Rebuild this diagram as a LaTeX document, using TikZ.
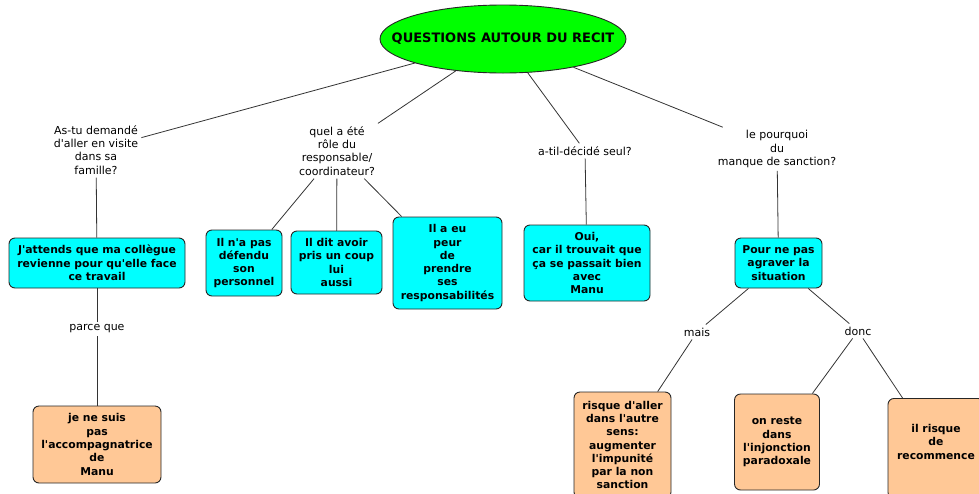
\documentclass[tikz,border=0pt]{standalone}
\usepackage{fontspec}
\setmainfont{DejaVu Sans}[Ligatures=TeXOff]
\usetikzlibrary{shapes.geometric}
\definecolor{titlegreen}{RGB}{0,255,0}
\definecolor{answercyan}{RGB}{0,255,255}
\definecolor{peach}{RGB}{255,200,150}
\begin{document}
\begin{tikzpicture}[x=1pt,y=-1pt,
  question/.style={font=\fontsize{11}{13.3}\selectfont, align=center, inner sep=3pt},
  answer/.style={draw=black!85, line width=0.9pt, rounded corners=6pt,
    font=\bfseries\fontsize{10.8}{13.3}\selectfont, align=center, inner sep=1pt},
  cyanbox/.style={answer, fill=answercyan},
  orangebox/.style={answer, fill=peach},
  link/.style={draw=black!80, line width=0.8pt}]
\useasboundingbox (0,0) rectangle (979,493);
\clip (0,0) rectangle (979,493);

% central topic
\node[ellipse, draw=black!85, line width=0.9pt, fill=titlegreen, minimum width=246pt,
  minimum height=68pt, inner xsep=-28pt, inner ysep=0pt,
  font=\bfseries\fontsize{13}{15}\selectfont]
  (root) at (503,39) {QUESTIONS AUTOUR DU RECIT};

% questions
\node[question] (q1) at (96,150) {As-tu demandé\\d'aller en visite\\dans sa\\famille?};
\node[question] (q2) at (337,151) {quel a été\\rôle du\\responsable/\\coordinateur?};
\node[question] (q3) at (585,151) {a-til-décidé seul?};
\node[question] (q4) at (777,149) {le pourquoi\\du\\manque de sanction?};

% answers
\node[cyanbox, minimum width=176pt, minimum height=50pt] (a1) at (97,263)
  {J'attends que ma collègue\\revienne pour qu'elle face\\ce travail};
\node[cyanbox, minimum width=76pt, minimum height=66pt] (a2) at (244,263)
  {Il n'a pas\\défendu\\son\\personnel};
\node[cyanbox, minimum width=91pt, minimum height=63pt] (a3) at (336.5,262.5)
  {Il dit avoir\\pris un coup\\lui\\aussi};
\node[cyanbox, minimum width=109pt, minimum height=92pt] (a4) at (447.5,263)
  {Il a eu\\peur\\de\\prendre\\ses\\responsabilités};
\node[cyanbox, minimum width=126pt, minimum height=76pt] (a5) at (587,263)
  {Oui,\\car il trouvait que\\ça se passait bien\\avec\\Manu};
\node[cyanbox, minimum width=87pt, minimum height=50pt] (a6) at (778.5,263)
  {Pour ne pas\\agraver la\\situation};

% linking words
\node[question] (p1) at (97,329) {parce que};
\node[question] (m1) at (697,332) {mais};
\node[question] (d1) at (858,331) {donc};

% consequences
\node[orangebox, minimum width=128pt, minimum height=77pt] (o1) at (97,444.5)
  {je ne suis\\pas\\l'accompagnatrice\\de\\Manu};
\node[orangebox, minimum width=97pt, minimum height=106pt] (o2) at (622.5,445)
  {risque d'aller\\dans l'autre\\sens:\\augmenter\\l'impunité\\par la non\\sanction};
\node[orangebox, minimum width=85pt, minimum height=96pt] (o3) at (777,442)
  {on reste\\dans\\l'injonction\\paradoxale};
\node[orangebox, minimum width=96pt, minimum height=100pt, anchor=north] (o4) at (936,398)
  {il risque\\de\\recommence\\ };

% connectors
\draw[link] (root) -- (q1);
\draw[link] (root) -- (q2);
\draw[link] (root) -- (q3);
\draw[link] (root) -- (q4);
\draw[link] (q1) -- (a1);
\draw[link] (a1) -- (p1);
\draw[link] (p1) -- (o1);
\draw[link] (q2) -- (a2);
\draw[link] (q2) -- (a3);
\draw[link] (q2) -- (a4);
\draw[link] (q3) -- (a5);
\draw[link] (q4) -- (a6);
\draw[link] (a6) -- (m1);
\draw[link] (m1) -- (o2);
\draw[link] (a6) -- (d1);
\draw[link] (d1) -- (o3);
\draw[link] (d1) -- (o4);
\end{tikzpicture}
\end{document}
